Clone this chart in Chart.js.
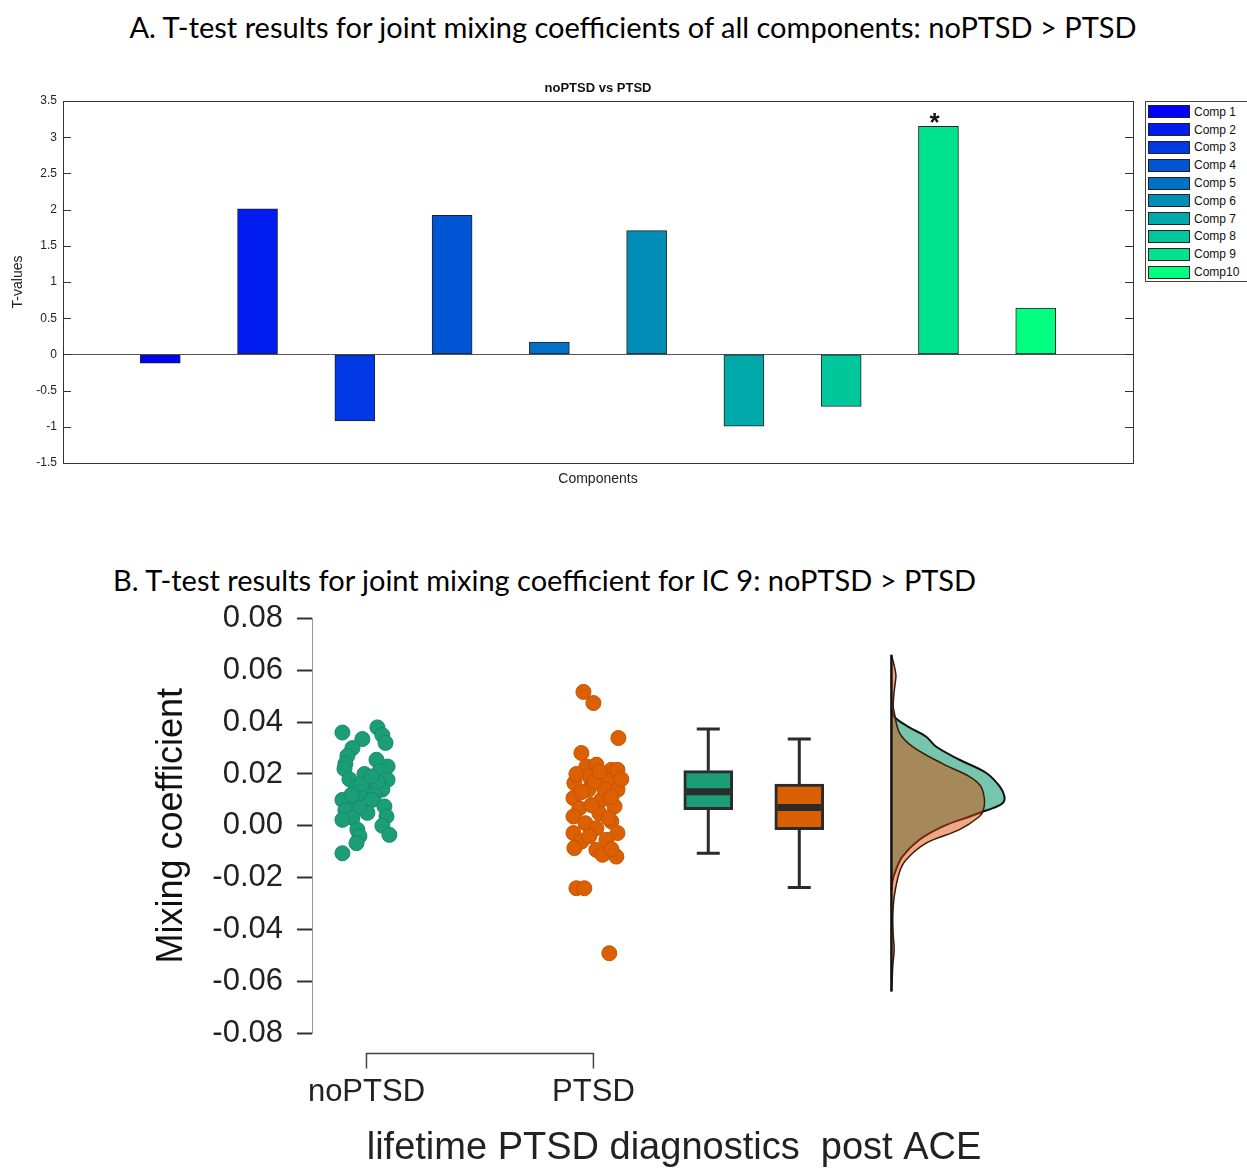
<!DOCTYPE html>
<html>
<head>
<meta charset="utf-8">
<script src="https://cdn.jsdelivr.net/npm/chart.js@4.4.0/dist/chart.umd.min.js"></script>
<style>
  body { margin: 0; width: 1247px; height: 1168px; position: relative; overflow: hidden; background: #fff; }
  .head { position: absolute; font-family: Lato, 'Open Sans', sans-serif; font-size: 29px; line-height: 32px; color: #000; white-space: nowrap; }
  #headA { left: 0; width: 1266px; text-align: center; top: 11px; }
  #headB { left: 113px; top: 564px; }
  .wrap { position: absolute; left: 0; }
  #legendA { position: absolute; left: 1145px; top: 101px; width: 110px; height: 181px; border: 1px solid #444; box-sizing: border-box; padding-top: 1px; background: #fff; }
  #legendA .row { height: 17.8px; display: flex; align-items: center; font: 12px 'Liberation Sans', Arial, sans-serif; color: #111; }
  #legendA .sw { width: 42px; height: 13px; border: 1px solid #222; box-sizing: border-box; margin: 0 4px 0 2px; }
</style>
</head>
<body>
<div id="headA" class="head">A. T-test results for joint mixing coefficients of all components: noPTSD &gt; PTSD</div>
<div class="wrap" style="top:60px"><canvas id="chartA" width="1247" height="440"></canvas></div>
<div id="legendA"></div>
<div id="headB" class="head">B. T-test results for joint mixing coefficient for IC 9: noPTSD &gt; PTSD</div>
<div class="wrap" style="top:586px"><canvas id="chartB" width="1247" height="582"></canvas></div>
<script>
Chart.defaults.font.family = "'Liberation Sans', Arial, sans-serif";
Chart.defaults.color = '#222';
Chart.defaults.animation = false;

// ---------- panel A data ----------
const compLabels = ['Comp 1', 'Comp 2', 'Comp 3', 'Comp 4', 'Comp 5', 'Comp 6', 'Comp 7', 'Comp 8', 'Comp 9', 'Comp10'];
const tValues = [-0.12, 2.01, -0.92, 1.92, 0.17, 1.71, -0.99, -0.72, 3.15, 0.64];
const compColors = ['#0000ff', '#001cf1', '#0039e3', '#0055d4', '#0071c6', '#008eb8', '#00aaaa', '#00c69c', '#00e38e', '#00ff80'];
const sigComps = [9];

// ---------- panel B data ----------
const groupNames = ['noPTSD', 'PTSD'];
const greenX = [0.894, 1.048, 1.070, 1.084, 0.982, 0.938, 0.916, 0.907, 1.044, 1.093, 0.903, 1.057, 0.991, 0.925, 1.093, 1.013, 0.956, 1.070, 0.991, 1.035,
                0.894, 1.026, 0.956, 1.079, 0.907, 1.004, 0.969, 0.938, 0.894, 1.088, 1.070, 1.101, 0.960, 0.969, 0.956, 0.894, 0.934, 1.048, 0.978, 1.022];
const greenY = [0.0360, 0.0380, 0.0350, 0.0320, 0.0335, 0.0300, 0.0270, 0.0240, 0.0255, 0.0229, 0.0220, 0.0210, 0.0200, 0.0180, 0.0178, 0.0165, 0.0150, 0.0140, 0.0126, 0.0120,
                0.0100, 0.0100, 0.0090, 0.0075, 0.0060, 0.0050, 0.0070, 0.0030, 0.0023, 0.0036, 0.0000, -0.0035, -0.0015, -0.0040, -0.0067, -0.0106, 0.0120, 0.0170, 0.0160, 0.0190];
const orangeX = [1.956, 2.000, 2.110, 1.947, 1.969, 2.013, 2.079, 2.106, 1.916, 2.057, 1.978, 2.106, 1.912, 2.035, 1.938, 2.093, 2.026, 1.912, 1.965, 2.079, 2.013, 1.912,
                 2.106, 1.947, 2.057, 1.916, 2.013, 2.101, 2.040, 1.925, 1.960, 2.070, 1.982, 2.048, 1.991, 2.079, 1.925, 1.982, 2.066, 1.947, 2.123, 2.004, 2.079, 2.026];
const orangeY = [0.0517, 0.0474, 0.0339, 0.0281, 0.0229, 0.0236, 0.0216, 0.0216, 0.0165, 0.0178, 0.0139, 0.0139, 0.0107, 0.0100, 0.0068, 0.0075, 0.0049, 0.0036, 0.0010, 0.0017, -0.0009, -0.0028,
                 -0.0028, -0.0061, -0.0054, -0.0086, -0.0093, -0.0119, -0.0112, -0.0241, -0.0241, -0.0492, 0.0190, 0.0140, 0.0080, 0.0110, 0.0200, -0.0040, 0.0030, 0.0130, 0.0180, 0.0170, -0.0090, 0.0210];
// box plot summaries (noPTSD, PTSD)
const boxX = [2.506, 2.907];
const boxMin = [-0.0106, -0.0238];
const boxQ1 = [0.0062, -0.0015];
const boxMed = [0.0131, 0.0071];
const boxQ3 = [0.0213, 0.0161];
const boxMax = [0.0374, 0.0335];
// half-violin densities: [coefficient, density width in x units]
const densBase = 3.313;
const densGreen = [[0.045, 0], [0.042, 0.013], [0.038, 0.079], [0.0345, 0.152], [0.0306, 0.196], [0.0255, 0.30], [0.0204, 0.418], [0.0152, 0.477],
                   [0.0113, 0.498], [0.0088, 0.491], [0.0068, 0.447], [0.0055, 0.403], [0.0036, 0.346], [-0.0003, 0.225], [-0.0054, 0.123],
                   [-0.0119, 0.048], [-0.017, 0.02], [-0.021, 0.005], [-0.025, 0]];
const densOrange = [[0.066, 0], [0.062, 0.012], [0.058, 0.02], [0.054, 0.015], [0.050, 0.01], [0.046, 0.008], [0.044, 0.012], [0.036, 0.035],
                    [0.0306, 0.093], [0.024, 0.225], [0.019, 0.344], [0.0152, 0.394], [0.010, 0.41], [0.006, 0.405], [0.0036, 0.388],
                    [-0.0015, 0.30], [-0.0067, 0.153], [-0.0131, 0.065], [-0.018, 0.035], [-0.027, 0.013], [-0.035, 0.006], [-0.042, 0.008],
                    [-0.048, 0.012], [-0.054, 0.006], [-0.060, 0.003], [-0.064, 0]];

// ---------- legend A ----------
const legendEl = document.getElementById('legendA');
compLabels.forEach(function (lab, i) {
  const row = document.createElement('div');
  row.className = 'row';
  row.innerHTML = '<span class="sw" style="background:' + compColors[i] + '"></span><span>' + lab + '</span>';
  legendEl.appendChild(row);
});

// ---------- chart A ----------
const boxA = {
  id: 'boxA',
  afterDraw(chart) {
    const {ctx, chartArea: a, scales: {y}} = chart;
    ctx.save();
    ctx.strokeStyle = '#333';
    ctx.lineWidth = 1;
    ctx.strokeRect(a.left + 0.5, a.top + 0.5, a.width, a.height);
    ctx.beginPath();
    y.ticks.forEach(function (t) {
      const py = Math.round(y.getPixelForValue(t.value)) + 0.5;
      ctx.moveTo(a.left, py); ctx.lineTo(a.left + 8, py);
      ctx.moveTo(a.right - 8, py); ctx.lineTo(a.right, py);
    });
    ctx.stroke();
    ctx.fillStyle = '#111';
    ctx.font = "bold 13px 'Liberation Sans', Arial, sans-serif";
    ctx.textAlign = 'center';
    ctx.textBaseline = 'middle';
    ctx.fillText('noPTSD vs PTSD', (a.left + a.right) / 2, a.top - 13);
    const meta = chart.getDatasetMeta(0);
    ctx.font = "bold 26px 'Liberation Sans', Arial, sans-serif";
    ctx.textBaseline = 'alphabetic';
    sigComps.forEach(function (c) {
      const bar = meta.data[c - 1];
      ctx.fillText('*', bar.x - 4, bar.y + 5);
    });
    ctx.restore();
  }
};

new Chart(document.getElementById('chartA'), {
  type: 'bar',
  data: {
    datasets: [{
      data: tValues.map(function (v, i) { return {x: i + 1, y: v}; }),
      backgroundColor: compColors,
      borderColor: '#222',
      borderWidth: 1,
      borderSkipped: false,
      barThickness: 40
    }]
  },
  options: {
    responsive: false,
    layout: {padding: {top: 41, right: 114, left: 0, bottom: 0}},
    plugins: {legend: {display: false}, tooltip: {enabled: false}},
    scales: {
      x: {
        type: 'linear', min: 0, max: 11, offset: false,
        ticks: {display: false},
        grid: {display: false, drawTicks: false, offset: false},
        border: {display: false},
        title: {display: true, text: 'Components', font: {size: 14}, color: '#222', padding: {bottom: 12}},
        afterFit(s) { s.height = 37; }
      },
      y: {
        min: -1.5, max: 3.5,
        ticks: {
          stepSize: 0.5, font: {size: 12}, color: '#222', padding: 6,
          callback: function (v) { return String(Math.round(v * 10) / 10); }
        },
        grid: {
          drawTicks: false,
          color: function (c) { return c.tick && c.tick.value === 0 ? '#555' : 'rgba(0,0,0,0)'; }
        },
        border: {display: false},
        title: {display: true, text: 'T-values', font: {size: 14}, color: '#222', padding: {top: 10}},
        afterFit(s) { s.width = 63; }
      }
    }
  },
  plugins: [boxA]
});

// ---------- chart B ----------
const rainB = {
  id: 'rainB',
  afterDatasetsDraw(chart) {
    const {ctx, scales: {x, y}} = chart;
    ctx.save();
    ctx.strokeStyle = '#2b2b2b';
    boxX.forEach(function (bx, i) {
      const px = x.getPixelForValue(bx);
      ctx.lineWidth = 3;
      ctx.beginPath();
      ctx.moveTo(px, y.getPixelForValue(boxQ3[i])); ctx.lineTo(px, y.getPixelForValue(boxMax[i]));
      ctx.moveTo(px, y.getPixelForValue(boxQ1[i])); ctx.lineTo(px, y.getPixelForValue(boxMin[i]));
      ctx.moveTo(px - 11.5, y.getPixelForValue(boxMax[i])); ctx.lineTo(px + 11.5, y.getPixelForValue(boxMax[i]));
      ctx.moveTo(px - 11.5, y.getPixelForValue(boxMin[i])); ctx.lineTo(px + 11.5, y.getPixelForValue(boxMin[i]));
      ctx.stroke();
      ctx.lineWidth = 7;
      ctx.beginPath();
      ctx.moveTo(px - 22, y.getPixelForValue(boxMed[i])); ctx.lineTo(px + 22, y.getPixelForValue(boxMed[i]));
      ctx.stroke();
    });
    // density baseline
    const allY = densGreen.concat(densOrange).map(function (d) { return d[0]; });
    const bx = x.getPixelForValue(densBase);
    ctx.strokeStyle = '#111';
    ctx.lineWidth = 2.5;
    ctx.beginPath();
    ctx.moveTo(bx, y.getPixelForValue(Math.max.apply(null, allY)));
    ctx.lineTo(bx, y.getPixelForValue(Math.min.apply(null, allY)));
    ctx.stroke();
    ctx.restore();
  },
  afterDraw(chart) {
    const {ctx, scales: {x}, chartArea: a} = chart;
    const x1 = x.getPixelForValue(1), x2 = x.getPixelForValue(2);
    const by = a.bottom + 20.5;
    ctx.save();
    ctx.strokeStyle = '#444';
    ctx.lineWidth = 1.5;
    ctx.beginPath();
    ctx.moveTo(x1, by + 15); ctx.lineTo(x1, by); ctx.lineTo(x2, by); ctx.lineTo(x2, by + 15);
    ctx.stroke();
    ctx.restore();
  }
};

function densityPoints(d) {
  return d.map(function (p) { return {x: densBase + p[1], y: p[0]}; });
}

new Chart(document.getElementById('chartB'), {
  type: 'scatter',
  data: {
    datasets: [
      {
        data: greenX.map(function (v, i) { return {x: v, y: greenY[i]}; }),
        backgroundColor: '#1b9e77', borderColor: '#178a68', borderWidth: 1, pointRadius: 7.5, order: 1
      },
      {
        data: orangeX.map(function (v, i) { return {x: v, y: orangeY[i]}; }),
        backgroundColor: '#dc6002', borderColor: '#c25400', borderWidth: 1, pointRadius: 7.5, order: 1
      },
      {
        type: 'bar',
        data: boxX.map(function (v, i) { return {x: v, y: [boxQ1[i], boxQ3[i]]}; }),
        backgroundColor: ['#1b9e77', '#d95f02'],
        borderColor: '#2b2b2b', borderWidth: 3, borderSkipped: false,
        barThickness: 49, order: 2
      },
      {
        type: 'line',
        data: densityPoints(densOrange),
        fill: 'shape', backgroundColor: 'rgba(220,70,0,0.47)',
        borderColor: '#3a1a08', borderWidth: 1.5, pointRadius: 0, tension: 0.35, order: 3
      },
      {
        type: 'line',
        data: densityPoints(densGreen),
        fill: 'shape', backgroundColor: 'rgba(27,158,119,0.6)',
        borderColor: '#111', borderWidth: 2, pointRadius: 0, tension: 0.35, order: 4
      }
    ]
  },
  options: {
    responsive: false,
    layout: {padding: {top: 0, right: 211, left: 0, bottom: 0}},
    plugins: {legend: {display: false}, tooltip: {enabled: false}},
    scales: {
      x: {
        type: 'linear', min: 0.76, max: 3.95, offset: false,
        afterBuildTicks(s) { s.ticks = [{value: 1}, {value: 2}]; },
        ticks: {
          font: {size: 31}, color: '#222', padding: 41,
          callback: function (v) { return groupNames[v - 1]; }
        },
        grid: {display: false, drawTicks: false, offset: false},
        border: {display: false},
        title: {display: true, text: 'lifetime PTSD diagnostics  post ACE', font: {size: 38, lineHeight: 1}, color: '#222', padding: {bottom: 0}},
        afterFit(s) { s.height = 135; }
      },
      y: {
        min: -0.08, max: 0.08,
        ticks: {
          stepSize: 0.02, font: {size: 31}, color: '#222', padding: 14,
          callback: function (v) { return v.toFixed(2); }
        },
        grid: {drawOnChartArea: false, tickLength: 15, tickColor: '#333', tickWidth: 2},
        border: {color: '#999', width: 1},
        title: {display: true, text: 'Mixing coefficient', font: {size: 36}, color: '#111', padding: {top: 150}},
        afterFit(s) { s.width = 312; }
      }
    }
  },
  plugins: [rainB]
});
</script>
</body>
</html>
